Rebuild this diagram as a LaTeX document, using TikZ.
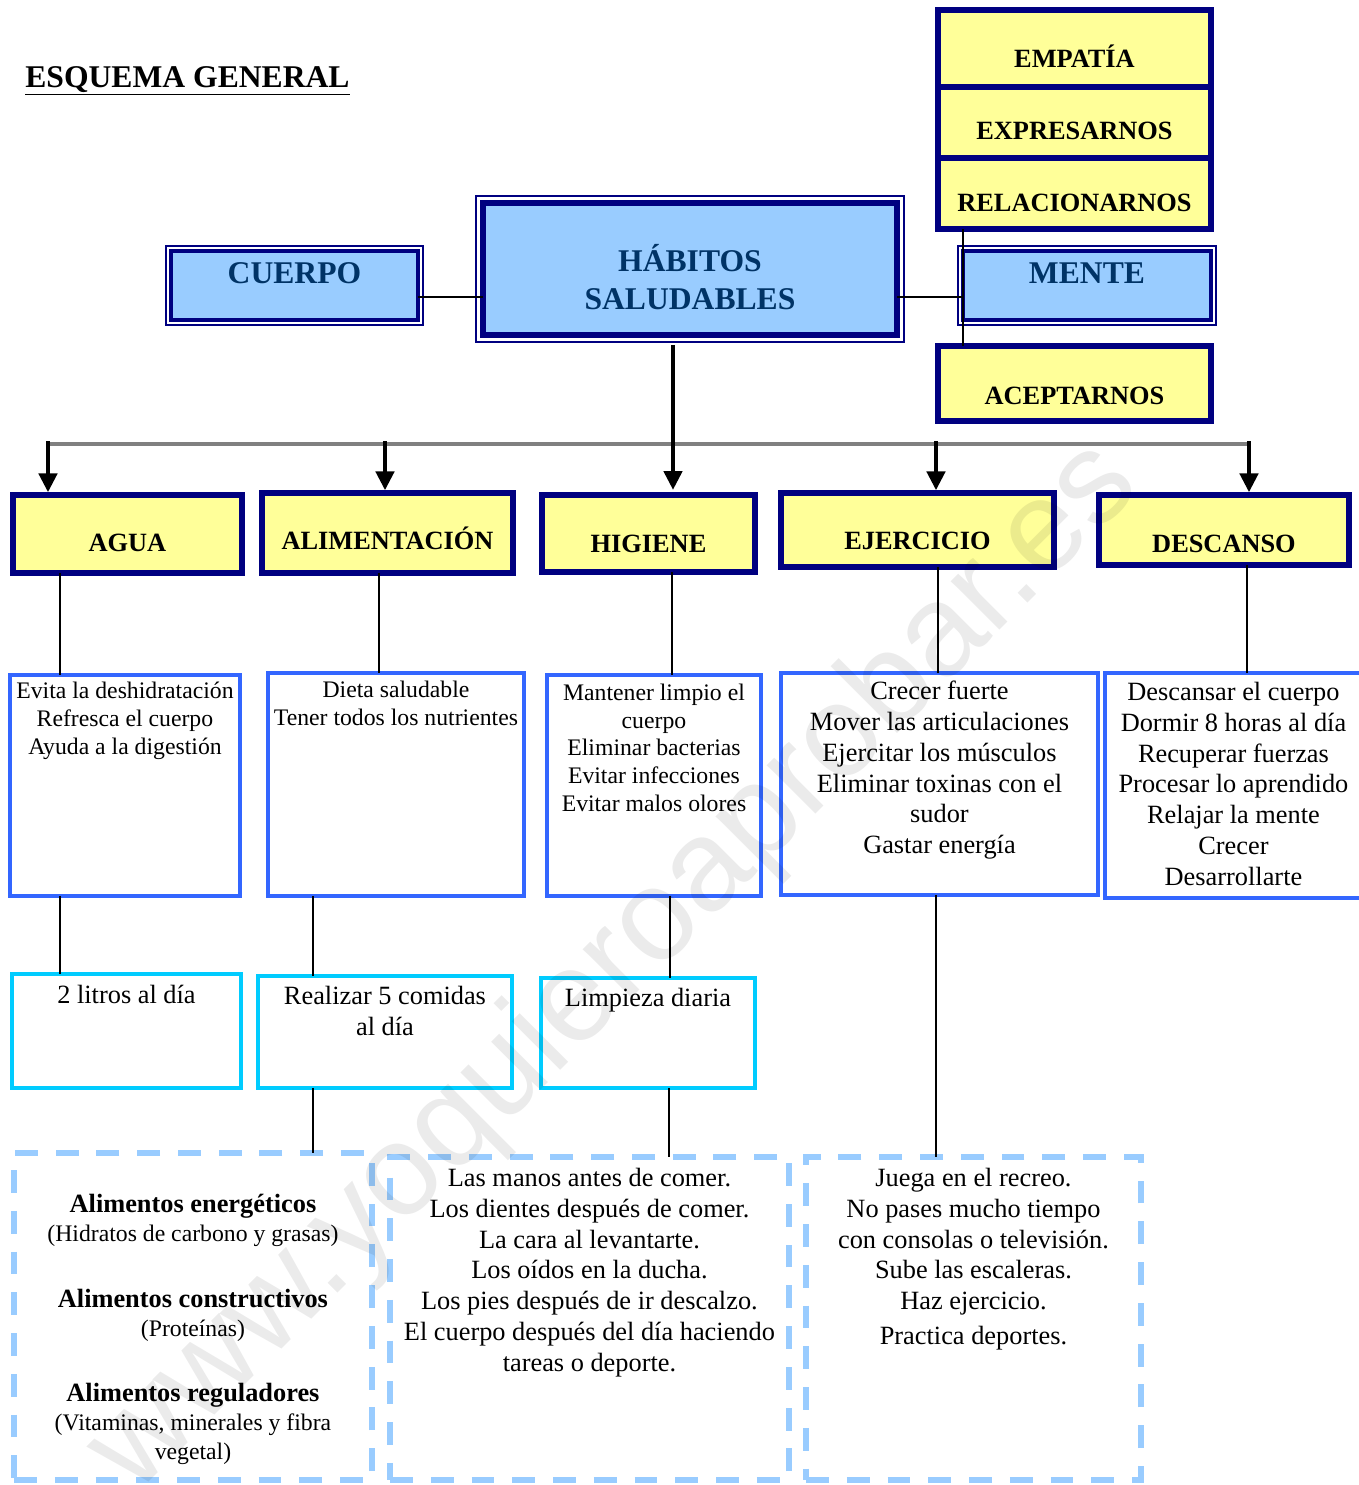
\documentclass[tikz,border=0pt]{standalone}
\usepackage{fontspec}
\setmainfont{Liberation Serif}
\newfontfamily\wmfont{Liberation Sans}
\usepackage{xcolor}
\usetikzlibrary{arrows.meta}
\definecolor{navy}{HTML}{000080}
\definecolor{yelfill}{HTML}{FFFF99}
\definecolor{bluefill}{HTML}{99CCFF}
\definecolor{headtext}{HTML}{003366}
\definecolor{infoline}{HTML}{3366FF}
\definecolor{subline}{HTML}{00CCFF}
\definecolor{tipline}{HTML}{99CCFF}
\definecolor{busgray}{HTML}{808080}
\tikzset{
  yelbox/.style={draw=navy, line width=3.4pt, fill=yelfill, anchor=north west,
    inner sep=0pt, outer sep=0pt, font=\fontsize{15}{18}\selectfont\bfseries},
  headbox/.style={draw=navy, line width=2.2pt, fill=bluefill, anchor=north west,
    inner sep=0pt, outer sep=0pt, text=headtext, font=\fontsize{18}{21.5}\selectfont\bfseries},
  frame/.style={draw=navy, line width=1.1pt},
  infobox/.style={draw=infoline, line width=2.3pt, anchor=north west, inner sep=0pt, outer sep=0pt},
  subbox/.style={draw=subline, line width=2.3pt, anchor=north west, inner sep=0pt, outer sep=0pt},
  tipbox/.style={draw=tipline, line width=3.1pt, dash pattern=on 13pt off 10.2pt,
    anchor=north west, inner sep=0pt, outer sep=0pt},
  lbl/.style={anchor=north, align=center, inner sep=0pt},
  smalltxt/.style={lbl, font=\fontsize{13.5}{15.7}\selectfont},
  bigtxt/.style={lbl, font=\fontsize{15}{17.5}\selectfont},
  headlbl/.style={lbl, text=headtext, font=\fontsize{18}{21.5}\selectfont\bfseries},
  titletext/.style={inner sep=0pt, font=\fontsize{18}{21.5}\selectfont\bfseries},
  conn/.style={draw=black, line width=0.85pt},
  arr/.style={draw=black, line width=2.8pt, -{Triangle[length=10.8pt,width=10.2pt]}},
  bar/.style={draw=busgray, line width=2.8pt},
  wm/.style={text=black, text opacity=0.08, rotate=45, font=\wmfont\fontsize{74}{74}\selectfont}
}
\begin{document}
\begin{tikzpicture}[x=0.02cm, y=-0.02cm]
  \useasboundingbox (0,0) rectangle (1359,1485);

  \node[titletext, anchor=base west] (titulo) at (25,87) {\underline{ESQUEMA GENERAL}};

  % mente: column on the right
  \node[yelbox, minimum width=5.46cm, text height=1.15cm, text depth=0.39cm] (empatia) at (938,10) {EMPATÍA};
  \node[yelbox, minimum width=5.46cm, text height=1.05cm, text depth=0.37cm] (expresarnos) at (938,87) {EXPRESARNOS};
  \node[yelbox, minimum width=5.46cm, text height=1.07cm, text depth=0.35cm] (relacionarnos) at (938,158) {RELACIONARNOS};
  \node[yelbox, minimum width=5.46cm, text height=1.17cm, text depth=0.33cm] (aceptarnos) at (938,346) {ACEPTARNOS};

  % top row
  \node[headbox, minimum width=4.94cm, text height=0.65cm, text depth=0.73cm] (cuerpo) at (171,251) {CUERPO};
  \node[headbox, minimum width=4.96cm, text height=0.65cm, text depth=0.73cm] (mente) at (963,251) {MENTE};
  \node[headbox, line width=3.7pt, minimum width=8.28cm, minimum height=2.64cm,
    label={[headlbl, yshift=-0.82cm]north:{HÁBITOS\\SALUDABLES}}] (habitos) at (483,203) {};
  \draw[frame] ([shift={(-5,-5)}]cuerpo.north west) rectangle ([shift={(5,5)}]cuerpo.south east);
  \draw[frame] ([shift={(-5,-5)}]mente.north west) rectangle ([shift={(5,5)}]mente.south east);
  \draw[frame] ([shift={(-7,-7)}]habitos.north west) rectangle ([shift={(7,7)}]habitos.south east);

  \coordinate (midrow) at (0,297);
  \draw[conn] (cuerpo.east |- midrow) -- (habitos.west |- midrow);
  \draw[conn] (habitos.east |- midrow) -- (mente.west |- midrow);
  \draw[conn] (mente.west |- relacionarnos.south) -- (mente.west |- aceptarnos.north);

  % the five habits
  \node[yelbox, minimum width=4.58cm, text height=1.13cm, text depth=0.43cm] (agua) at (13,495) {AGUA};
  \node[yelbox, minimum width=5.02cm, text height=1.13cm, text depth=0.47cm] (alim) at (262,493) {ALIMENTACIÓN};
  \node[yelbox, minimum width=4.26cm, text height=1.15cm, text depth=0.39cm] (hig) at (542,495) {HIGIENE};
  \node[yelbox, minimum width=5.46cm, text height=1.13cm, text depth=0.35cm] (ejer) at (781,493) {EJERCICIO};
  \node[yelbox, minimum width=5.00cm, text height=1.15cm, text depth=0.25cm] (desc) at (1099,495) {DESCANSO};

  % bus with arrows
  \coordinate (bus-agua) at (48,444);
  \coordinate (bus-alim) at (385,444);
  \coordinate (bus-hub) at (673,444);
  \coordinate (bus-ejer) at (936,444);
  \coordinate (bus-desc) at (1249,444);
  \draw[bar] (bus-agua) -- (bus-desc);
  \foreach \n in {agua,alim,ejer,desc}
    \draw[arr, shorten <=-1.5pt, shorten >=1.5pt] (bus-\n) -- (\n.north -| bus-\n);
  \draw[arr, shorten <=0.2cm, shorten >=0.1cm] (habitos.south -| bus-hub) -- (hig.north -| bus-hub);

  % what each habit does
  \node[infobox, minimum width=4.6cm, minimum height=4.42cm,
    label={[smalltxt, yshift=-0.14cm]north:{Evita la deshidratación\\Refresca el cuerpo\\Ayuda a la digestión}}] (aguaB) at (10,675) {};
  \node[infobox, minimum width=5.12cm, minimum height=4.46cm,
    label={[smalltxt, yshift=-0.16cm]north:{Dieta saludable\\Tener todos los nutrientes}}] (alimB) at (268,673) {};
  \node[infobox, minimum width=4.28cm, minimum height=4.42cm,
    label={[smalltxt, yshift=-0.18cm]north:{Mantener limpio el\\cuerpo\\Eliminar bacterias\\Evitar infecciones\\Evitar malos olores}}] (higB) at (547,675) {};
  \node[infobox, minimum width=6.34cm, minimum height=4.44cm,
    label={[bigtxt, yshift=-0.16cm]north:{Crecer fuerte\\Mover las articulaciones\\Ejercitar los músculos\\Eliminar toxinas con el\\sudor\\Gastar energía}}] (ejerB) at (781,673) {};
  \node[infobox, minimum width=5.14cm, minimum height=4.5cm,
    label={[bigtxt, yshift=-0.18cm]north:{Descansar el cuerpo\\Dormir 8 horas al día\\Recuperar fuerzas\\Procesar lo aprendido\\Relajar la mente\\Crecer\\Desarrollarte}}] (descB) at (1105,673) {};

  % how often
  \node[subbox, minimum width=4.58cm, minimum height=2.28cm,
    label={[bigtxt, yshift=-0.22cm]north:{2 litros al día}}] (litros) at (12,974) {};
  \node[subbox, minimum width=5.08cm, minimum height=2.24cm,
    label={[bigtxt, yshift=-0.2cm]north:{Realizar 5 comidas\\al día}}] (comidas) at (258,976) {};
  \node[subbox, minimum width=4.28cm, minimum height=2.2cm,
    label={[bigtxt, yshift=-0.2cm]north:{Limpieza diaria}}] (limpieza) at (541,978) {};

  % tips
  \node[tipbox, minimum width=7.16cm, minimum height=6.54cm,
    label={[smalltxt, font=\fontsize{13.5}{16.4}\selectfont, yshift=-0.82cm]north:{%
      {\fontsize{15}{16.4}\selectfont\bfseries Alimentos energéticos}\\(Hidratos de carbono y grasas)\\[21pt]
      {\fontsize{15}{16.4}\selectfont\bfseries Alimentos constructivos}\\(Proteínas)\\[21pt]
      {\fontsize{15}{16.4}\selectfont\bfseries Alimentos reguladores}\\(Vitaminas, minerales y fibra\\vegetal)}}] (alimentos) at (14,1153) {};
  \node[tipbox, minimum width=7.98cm, minimum height=6.46cm,
    label={[bigtxt, yshift=-0.22cm]north:{Las manos antes de comer.\\Los dientes después de comer.\\La cara al levantarte.\\Los oídos en la ducha.\\Los pies después de ir descalzo.\\El cuerpo después del día haciendo\\tareas o deporte.}}] (manos) at (390,1157) {};
  \node[tipbox, minimum width=6.7cm, minimum height=6.46cm,
    label={[bigtxt, yshift=-0.22cm]north:{Juega en el recreo.\\No pases mucho tiempo\\con consolas o televisión.\\Sube las escaleras.\\Haz ejercicio.\\[2.3pt]Practica deportes.}}] (juega) at (806,1157) {};

  % thin links down the columns
  \foreach \a/\b/\s in {agua/aguaB/-1.35, alim/alimB/-0.17, hig/higB/0.47, ejer/ejerB/0.41,
      desc/descB/0.46, aguaB/litros/-1.3, alimB/comidas/-1.66, higB/limpieza/0.32,
      ejerB/juega/-0.07, comidas/alimentos/-1.44, limpieza/manos/0.42}
    \draw[conn] ([xshift=\s cm]\a.south) -- ([xshift=\s cm]\a.south |- \b.north);

  \node[wm] (marca) at (615,968) {www.yoquieroaprobar.es};
\end{tikzpicture}
\end{document}
